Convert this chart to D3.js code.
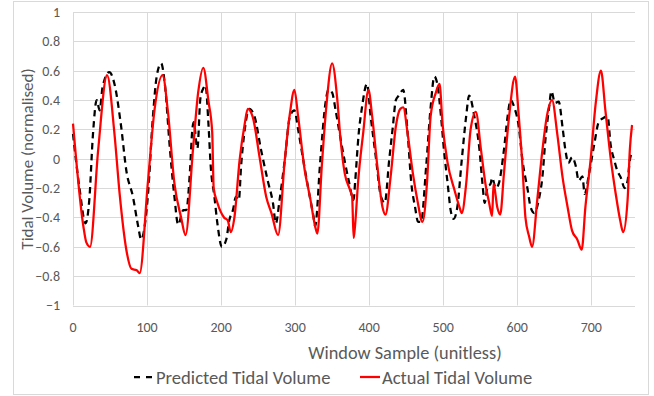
<!DOCTYPE html>
<html>
<head>
<meta charset="utf-8">
<script src="https://cdn.jsdelivr.net/npm/d3@7/dist/d3.min.js"></script>
<style>
  html, body { margin: 0; padding: 0; background: #fff; }
  svg text { font-family: Carlito, Calibri, Lato, "Open Sans", sans-serif; fill: #595959; }
</style>
</head>
<body>
<div id="chart"></div>
<script>
// Lecturas del gráfico: muestra (x) y volumen normalizado (y)
const predictedSample = [0, 9, 17, 22, 27, 32, 36, 40, 49, 56, 65, 72, 81, 88, 92, 101, 108, 113, 119, 124, 131, 137, 142, 149, 153, 158, 161, 163, 168, 172, 176, 179, 183, 186, 191, 195, 201, 207, 211, 216, 220, 224, 227, 232, 238, 245, 254, 263, 270, 274, 279, 286, 293, 299, 304, 311, 318, 325, 327, 334, 341, 345, 350, 355, 363, 372, 379, 381, 386, 390, 397, 402, 409, 416, 421, 427, 432, 436, 440, 446, 452, 457, 462, 466, 470, 477, 483, 488, 492, 497, 501, 506, 510, 514, 519, 525, 531, 535, 542, 549, 553, 556, 560, 564, 566, 571, 575, 582, 587, 591, 596, 602, 607, 614, 618, 623, 629, 634, 638, 643, 646, 651, 656, 661, 665, 669, 674, 679, 683, 688, 691, 697, 704, 710, 717, 722, 726, 731, 735, 740, 745, 749, 752, 755];
const predictedValue = [0.17, -0.21, -0.44, -0.28, 0.17, 0.4, 0.33, 0.49, 0.59, 0.51, 0.22, -0.08, -0.26, -0.46, -0.55, -0.26, 0.29, 0.56, 0.65, 0.51, 0.06, -0.26, -0.45, -0.35, -0.35, -0.08, 0.19, 0.25, 0.07, 0.41, 0.48, 0.5, 0.23, -0.05, -0.26, -0.44, -0.6, -0.55, -0.42, -0.35, -0.26, -0.28, -0.05, 0.2, 0.34, 0.29, 0.06, -0.15, -0.3, -0.44, -0.28, -0.01, 0.29, 0.33, 0.2, -0.01, -0.21, -0.4, -0.46, -0.01, 0.38, 0.47, 0.45, 0.32, 0.09, -0.14, -0.28, -0.16, 0.18, 0.34, 0.51, 0.29, 0.01, -0.26, -0.3, -0.01, 0.22, 0.4, 0.43, 0.47, 0.17, -0.17, -0.33, -0.43, -0.43, -0.05, 0.35, 0.56, 0.51, 0.29, 0.06, -0.17, -0.35, -0.41, -0.33, -0.01, 0.29, 0.43, 0.29, 0.06, -0.17, -0.3, -0.19, -0.17, -0.13, -0.2, -0.17, 0.06, 0.29, 0.4, 0.35, 0.22, -0.01, -0.21, -0.33, -0.37, -0.28, -0.12, 0.13, 0.35, 0.46, 0.38, 0.39, 0.22, 0.06, -0.03, 0.01, -0.05, -0.15, -0.12, -0.24, -0.1, 0.1, 0.25, 0.28, 0.29, 0.1, -0.01, -0.08, -0.13, -0.2, -0.15, -0.01, 0.04];

const actualSample = [0, 14, 18, 23, 34, 46, 56, 63, 72, 79, 86, 90, 101, 110, 121, 128, 137, 146, 152, 162, 169, 176, 183, 188, 190, 195, 204, 209, 213, 218, 225, 232, 236, 243, 252, 261, 268, 277, 286, 293, 299, 304, 313, 320, 327, 330, 336, 342, 350, 357, 361, 367, 374, 377, 379, 381, 385, 392, 399, 404, 411, 418, 422, 429, 436, 442, 446, 452, 459, 465, 472, 478, 483, 490, 495, 499, 506, 515, 522, 525, 531, 537, 544, 551, 557, 562, 566, 568, 573, 577, 582, 589, 597, 602, 607, 611, 616, 620, 627, 634, 640, 647, 654, 661, 668, 674, 681, 687, 692, 699, 706, 713, 719, 726, 733, 739, 743, 749, 752, 755];
const actualValue = [0.24, -0.46, -0.57, -0.6, 0.06, 0.57, 0.17, -0.24, -0.62, -0.75, -0.76, -0.78, -0.17, 0.33, 0.57, 0.33, -0.17, -0.4, -0.52, 0.06, 0.45, 0.62, 0.39, 0.18, -0.2, -0.3, -0.4, -0.42, -0.5, -0.4, -0.01, 0.24, 0.34, 0.28, 0.01, -0.26, -0.37, -0.52, -0.01, 0.31, 0.47, 0.29, -0.08, -0.26, -0.46, -0.51, -0.05, 0.35, 0.65, 0.4, 0.15, -0.1, -0.21, -0.26, -0.54, -0.45, -0.16, 0.18, 0.47, 0.29, -0.05, -0.33, -0.38, -0.12, 0.22, 0.34, 0.35, 0.17, -0.1, -0.28, -0.43, -0.17, 0.29, 0.45, 0.51, 0.24, -0.03, -0.21, -0.33, -0.37, -0.17, 0.2, 0.32, 0.06, -0.17, -0.3, -0.39, -0.17, -0.33, -0.38, -0.1, 0.29, 0.56, 0.29, -0.05, -0.4, -0.53, -0.6, -0.28, 0.06, 0.29, 0.4, 0.17, -0.12, -0.33, -0.49, -0.55, -0.62, -0.33, -0.01, 0.38, 0.6, 0.33, 0.01, -0.24, -0.42, -0.5, -0.28, 0.06, 0.23];

const xTicks = [0, 100, 200, 300, 400, 500, 600, 700];
const yTicks = [-1, -0.8, -0.6, -0.4, -0.2, 0, 0.2, 0.4, 0.6, 0.8, 1];
const seriesNames = ["Predicted Tidal Volume", "Actual Tidal Volume"];

const width = 654, height = 396;
const margin = { top: 12, right: 19, bottom: 90.5, left: 73 };

const svg = d3.select("#chart").append("svg")
  .attr("width", width).attr("height", height);

// marco del gráfico
svg.append("rect")
  .attr("x", 13.5).attr("y", 1.5).attr("width", 635).attr("height", 393)
  .attr("fill", "#fff").attr("stroke", "#d9d9d9");

const x = d3.scaleLinear().domain([0, 759]).range([margin.left, width - margin.right]);
const y = d3.scaleLinear().domain([-1, 1]).range([height - margin.bottom, margin.top]);

// rejilla horizontal
svg.append("g").selectAll("line").data(yTicks).join("line")
  .attr("x1", x(0)).attr("x2", x(759))
  .attr("y1", d => Math.round(y(d)) + 0.5).attr("y2", d => Math.round(y(d)) + 0.5)
  .attr("stroke", "#d9d9d9");

// rejilla vertical
svg.append("g").selectAll("line").data(xTicks).join("line")
  .attr("x1", d => Math.round(x(d)) + 0.5).attr("x2", d => Math.round(x(d)) + 0.5)
  .attr("y1", y(1)).attr("y2", y(-1))
  .attr("stroke", "#d9d9d9");

// etiquetas eje y
svg.append("g").selectAll("text").data(yTicks).join("text")
  .attr("x", 60).attr("y", d => y(d))
  .attr("dy", "0.35em").attr("text-anchor", "end")
  .style("font-size", "14px")
  .text(d => d3.format("")(d));

// etiquetas eje x
svg.append("g").selectAll("text").data(xTicks).join("text")
  .attr("x", d => x(d)).attr("y", 327)
  .attr("dy", "0.35em").attr("text-anchor", "middle")
  .style("font-size", "14px")
  .text(d => d);

// títulos de ejes
svg.append("text")
  .attr("x", 405).attr("y", 353).attr("dy", "0.35em")
  .attr("text-anchor", "middle").style("font-size", "18.3px")
  .text("Window Sample (unitless)");

svg.append("text")
  .attr("transform", "translate(27,159) rotate(-90)")
  .attr("dy", "0.35em").attr("text-anchor", "middle").style("font-size", "17px")
  .text("Tidal Volume (normalised)");

const line = d3.line()
  .x(d => x(d[0])).y(d => y(d[1]))
  .curve(d3.curveMonotoneX);

const predicted = d3.zip(predictedSample, predictedValue);
const actual = d3.zip(actualSample, actualValue);

svg.append("path").datum(predicted)
  .attr("d", line).attr("fill", "none")
  .attr("stroke", "#000").attr("stroke-width", 2.25)
  .attr("stroke-dasharray", "6.5,4.5");

svg.append("path").datum(actual)
  .attr("d", line).attr("fill", "none")
  .attr("stroke", "#ff0000").attr("stroke-width", 2.25)
  .attr("stroke-linejoin", "round");

// leyenda
const legend = svg.append("g");
legend.append("line")
  .attr("x1", 134).attr("x2", 154).attr("y1", 377).attr("y2", 377)
  .attr("stroke", "#000").attr("stroke-width", 2.25).attr("stroke-dasharray", "6,6");
legend.append("text")
  .attr("x", 156).attr("y", 377).attr("dy", "0.35em")
  .style("font-size", "18.6px").text(seriesNames[0]);
legend.append("line")
  .attr("x1", 360).attr("x2", 380).attr("y1", 377).attr("y2", 377)
  .attr("stroke", "#ff0000").attr("stroke-width", 2.25);
legend.append("text")
  .attr("x", 382).attr("y", 377).attr("dy", "0.35em")
  .style("font-size", "18.6px").text(seriesNames[1]);
</script>
</body>
</html>
